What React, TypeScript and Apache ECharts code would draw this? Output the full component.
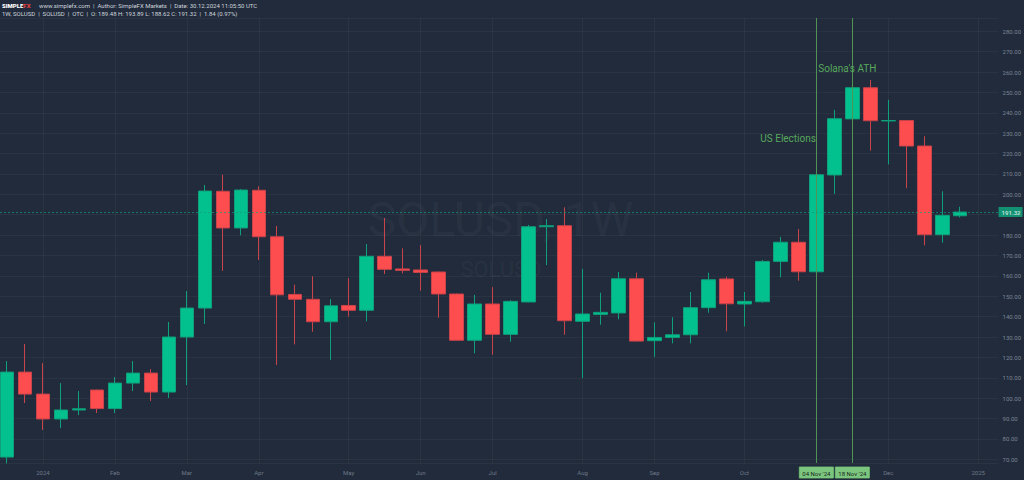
import React, { useEffect, useRef } from "react";
import * as echarts from "echarts";

// Weekly bars (week start), SOLUSD 1W
const weeks = [
  "2023-12-25", "2024-01-01", "2024-01-08", "2024-01-15", "2024-01-22", "2024-01-29",
  "2024-02-05", "2024-02-12", "2024-02-19", "2024-02-26", "2024-03-04", "2024-03-11",
  "2024-03-18", "2024-03-25", "2024-04-01", "2024-04-08", "2024-04-15", "2024-04-22",
  "2024-04-29", "2024-05-06", "2024-05-13", "2024-05-20", "2024-05-27", "2024-06-03",
  "2024-06-10", "2024-06-17", "2024-06-24", "2024-07-01", "2024-07-08", "2024-07-15",
  "2024-07-22", "2024-07-29", "2024-08-05", "2024-08-12", "2024-08-19", "2024-08-26",
  "2024-09-02", "2024-09-09", "2024-09-16", "2024-09-23", "2024-09-30", "2024-10-07",
  "2024-10-14", "2024-10-21", "2024-10-28", "2024-11-04", "2024-11-11", "2024-11-18",
  "2024-11-25", "2024-12-02", "2024-12-09", "2024-12-16", "2024-12-23", "2024-12-30",
];

const opens = [
  71.1, 112.8, 102.0, 89.8, 94.2, 104.0, 94.9, 107.4, 112.3, 103.0, 130.0, 144.2,
  201.5, 183.5, 202.0, 179.2, 150.9, 148.5, 137.5, 145.5, 143.1, 169.6, 163.4, 162.9,
  161.9, 151.1, 128.4, 146.2, 131.3, 147.2, 184.1, 184.6, 137.7, 141.1, 141.8, 158.6,
  128.2, 129.8, 131.1, 144.4, 158.5, 146.2, 147.3, 167.1, 176.5, 162.0, 209.5, 237.0,
  252.3, 236.0, 236.2, 223.7, 180.2, 189.48,
];
const closes = [
  112.8, 102.0, 89.8, 94.2, 94.8, 94.9, 107.4, 112.3, 103.0, 130.0, 144.2, 201.6,
  183.5, 202.1, 179.2, 150.7, 148.5, 137.5, 145.3, 143.1, 169.6, 163.2, 162.7, 161.7,
  151.1, 128.4, 146.2, 131.3, 147.5, 184.1, 184.6, 138.0, 141.3, 142.1, 158.6, 128.0,
  129.8, 131.1, 144.4, 158.1, 146.3, 147.5, 167.1, 176.5, 162.0, 209.6, 237.1, 252.3,
  236.1, 236.2, 223.7, 180.2, 189.7, 191.32,
];
const lows = [
  68.0, 97.6, 84.4, 85.3, 91.7, 92.7, 92.7, 103.5, 98.6, 100.1, 106.4, 136.4,
  162.4, 179.9, 167.8, 116.3, 126.4, 132.6, 118.7, 140.0, 137.7, 160.9, 161.2, 152.7,
  139.5, 128.2, 122.0, 121.3, 127.7, 147.0, 165.3, 131.1, 109.9, 136.0, 138.7, 127.8,
  120.3, 126.9, 126.9, 141.9, 132.8, 135.2, 146.8, 159.3, 157.6, 158.5, 200.2, 229.0,
  221.4, 214.7, 203.0, 175.0, 176.3, 188.62,
];
const highs = [
  118.2, 126.6, 117.2, 107.4, 103.5, 104.2, 110.4, 118.2, 114.3, 137.4, 152.6, 204.6,
  209.6, 202.6, 203.9, 184.5, 155.7, 159.8, 148.6, 158.9, 175.6, 188.4, 173.5, 175.1,
  162.2, 151.4, 150.7, 154.5, 148.1, 185.0, 187.9, 193.6, 163.4, 151.7, 161.9, 161.6,
  137.2, 139.7, 152.1, 161.6, 159.6, 152.1, 167.8, 179.1, 183.0, 214.4, 241.4, 259.0,
  256.1, 246.4, 236.3, 228.5, 201.5, 193.89,
];

// x-axis tick labels (bar index -> text)
const tickIndex = [2, 6, 10, 14, 19, 23, 27, 32, 36, 41, 49, 54];
const tickText = ["2024", "Feb", "Mar", "Apr", "May", "Jun", "Jul", "Aug", "Sep", "Oct", "Dec", "2025"];

// Event markers
const eventIndex = [45, 47];
const eventText = ["04 Nov '24", "18 Nov '24"];

// Notes: [bar position, price]
const noteText = ["Solana's ATH", "US Elections"];
const notePos = [
  [46.72, 261.8],
  [43.43, 227.5],
];

const lastPrice = 191.32;
const hiddenPriceTick = 190; // covered by the last-price tag

const BG = "#212b3b";
const UP = "#03c08f";
const DOWN = "#fe4d4f";
const FONT = "Roboto, sans-serif";

export default function App() {
  const ref = useRef<HTMLDivElement>(null);

  useEffect(() => {
    const chart = echarts.init(ref.current!, null, { renderer: "svg" });
    const candles = weeks.map((_, i) => [i, opens[i], closes[i], lows[i], highs[i]]);

    const option: any = {
      animation: false,
      backgroundColor: BG,
      textStyle: { fontFamily: FONT },
      grid: { left: 0, right: 23, top: 18, bottom: 17 },
      xAxis: {
        type: "value",
        min: -0.39,
        max: 55.13,
        axisLine: { show: false },
        axisTick: { show: false, customValues: tickIndex },
        axisLabel: {
          customValues: tickIndex,
          fontSize: 6,
          color: "#6f7888",
          margin: 6,
          fontFamily: FONT,
          formatter: (v: number) => {
            const k = tickIndex.indexOf(Math.round(v));
            return k >= 0 ? tickText[k] : "";
          },
        },
        splitLine: { show: true, lineStyle: { color: "rgba(255,255,255,0.04)", width: 1 } },
      },
      yAxis: {
        type: "value",
        position: "right",
        min: 68.2,
        max: 286.5,
        splitNumber: 22,
        axisLine: { show: false },
        axisTick: { show: false },
        axisLabel: {
          fontSize: 6,
          color: "#7d8695",
          margin: 4,
          showMinLabel: false,
          showMaxLabel: false,
          fontFamily: FONT,
          formatter: (v: number) => (Math.abs(v - hiddenPriceTick) < 0.01 ? "" : v.toFixed(2)),
        },
        splitLine: { show: true, lineStyle: { color: "rgba(255,255,255,0.04)", width: 1 } },
      },
      graphic: [
        {
          type: "text",
          z: 1,
          x: 500.5,
          y: 219,
          style: {
            text: "SOLUSD, 1W",
            fontSize: 48,
            fontFamily: FONT,
            fill: "rgba(255,255,255,0.05)",
            align: "center",
            verticalAlign: "middle",
          },
        },
        {
          type: "text",
          z: 1,
          x: 501,
          y: 269,
          style: {
            text: "SOLUSD",
            fontSize: 22,
            fontFamily: FONT,
            fill: "rgba(255,255,255,0.05)",
            align: "center",
            verticalAlign: "middle",
          },
        },
        {
          type: "text",
          z: 10,
          x: 2,
          y: 5.5,
          style: {
            text: "{a|SIMPLE}{b|FX}",
            verticalAlign: "middle",
            rich: {
              a: { fill: "#ffffff", fontSize: 6, fontWeight: 900, fontFamily: FONT },
              b: { fill: "#e0403c", fontSize: 6, fontWeight: 900, fontFamily: FONT },
            },
          },
        },
        {
          type: "text",
          z: 10,
          x: 39,
          y: 5.5,
          style: {
            text: "www.simplefx.com  |  Author: SimpleFX Markets  |  Date: 30.12.2024 11:05:50 UTC",
            fontSize: 6,
            fontFamily: FONT,
            fill: "#cfd4db",
            verticalAlign: "middle",
          },
        },
        {
          type: "text",
          z: 10,
          x: 2,
          y: 13.3,
          style: {
            text: "1W, SOLUSD  |  SOLUSD  |  OTC  |  O: 189.48 H: 193.89 L: 188.62 C: 191.32  |  1.84 (0.97%)",
            fontSize: 6,
            fontFamily: FONT,
            fill: "#cfd4db",
            verticalAlign: "middle",
          },
        },
      ],
      series: [
        {
          type: "candlestick",
          data: candles,
          barWidth: 14,
          itemStyle: {
            color: UP,
            color0: DOWN,
            borderColor: "#0f9f7a",
            borderColor0: "#c8434a",
            borderWidth: 1,
          },
          markLine: {
            silent: true,
            symbol: ["none", "none"],
            animation: false,
            data: [
              ...eventIndex.map((ix, k) => ({
                xAxis: ix,
                lineStyle: { color: "#4f9455", width: 1, type: "solid" },
                label: {
                  show: true,
                  position: "start",
                  formatter: eventText[k],
                  distance: 4,
                  fontSize: 6,
                  fontFamily: FONT,
                  color: "#16261a",
                  backgroundColor: "#7cc57f",
                  borderColor: "#5ea862",
                  borderWidth: 0.5,
                  padding: [3, 3, 2, 3],
                },
              })),
              {
                yAxis: lastPrice,
                lineStyle: { color: "#119a7b", width: 1, type: [2, 2], opacity: 0.7 },
                label: {
                  show: true,
                  position: "end",
                  formatter: lastPrice.toFixed(2),
                  distance: 0,
                  fontSize: 6,
                  fontWeight: "bold",
                  fontFamily: FONT,
                  color: "#ffffff",
                  backgroundColor: "#0dbf8c",
                  padding: [2, 2, 2, 3],
                },
              },
            ],
          },
          markPoint: {
            silent: true,
            symbol: "circle",
            symbolSize: 1,
            itemStyle: { color: "rgba(0,0,0,0)" },
            animation: false,
            data: noteText.map((t, k) => ({
              name: t,
              coord: notePos[k],
              label: {
                show: true,
                position: "inside",
                formatter: t,
                fontSize: 10,
                fontFamily: FONT,
                color: "#58a85c",
              },
            })),
          },
        },
      ],
    };

    chart.setOption(option);
    return () => chart.dispose();
  }, []);

  return (
    <div
      ref={ref}
      style={{ position: "fixed", left: 0, top: 0, width: 1024, height: 480, background: BG }}
    />
  );
}
